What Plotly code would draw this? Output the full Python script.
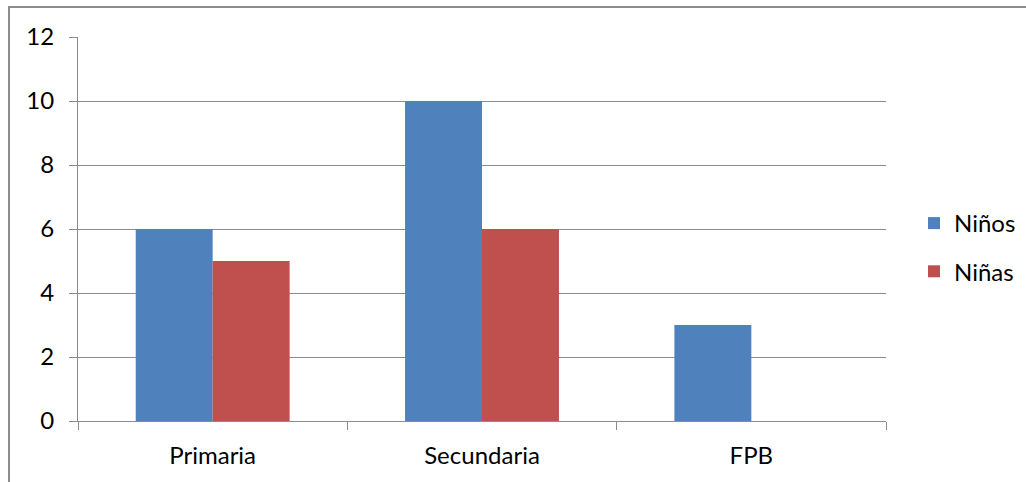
import plotly.graph_objects as go

categories = ["Primaria", "Secundaria", "FPB"]
ninos = [6, 10, 3]
ninas = [5, 6, 0]
series_names = ["Niños", "Niñas"]
y_ticks = [0, 2, 4, 6, 8, 10, 12]

FONT = "Lato"
FS = 24
GRID = "#8c8c8c"

fig = go.Figure()
fig.add_trace(go.Bar(x=categories, y=ninos, name=series_names[0],
                     marker=dict(color="#4F81BD", line=dict(width=0)),
                     legendgroup="a"))
fig.add_trace(go.Bar(x=categories, y=ninas, name=series_names[1],
                     marker=dict(color="#C0504D", line=dict(width=0)),
                     legendgroup="b"))

W, H = 1026, 482
L, T = 78, 37
R = W - 886
B = H - 421
pw, ph = W - L - R, H - T - B

def px_x(sx):
    return (sx - L) / pw

def px_y(sy):
    return (H - B - sy) / ph

fig.update_layout(
    width=W, height=H,
    margin=dict(l=L, r=R, t=T, b=B, pad=0, autoexpand=False),
    paper_bgcolor="white", plot_bgcolor="white",
    barmode="group", bargap=0.4286, bargroupgap=0,
    font=dict(family=FONT, size=FS, color="#000000"),
    legend=dict(xref="container", yref="container",
                x=914 / W, y=1 - 201 / H, xanchor="left", yanchor="top",
                tracegroupgap=14, traceorder="grouped",
                font=dict(family=FONT, size=FS), itemwidth=30),
    xaxis=dict(showline=True, linecolor=GRID, linewidth=1,
               ticks="outside", tickson="boundaries", ticklen=8, tickcolor=GRID,
               showgrid=False, tickfont=dict(size=FS), ticklabelstandoff=13),
    yaxis=dict(range=[0, 12], tickvals=y_ticks, showline=True, linecolor=GRID, linewidth=1,
               ticks="outside", ticklen=8, tickcolor=GRID,
               showgrid=True, gridcolor=GRID, gridwidth=1, zeroline=False,
               tickfont=dict(size=FS), ticklabelstandoff=10),
    shapes=[dict(type="rect", xref="paper", yref="paper",
                 x0=px_x(9), x1=px_x(W + 40),
                 y0=px_y(H + 40), y1=px_y(7),
                 line=dict(color="#8c8c8c", width=2), layer="below")],
    showlegend=True,
)

fig.write_html(
    "out.html",
    config={"displayModeBar": False},
    post_script="document.body.style.margin='0';document.body.style.overflow='hidden';",
)
